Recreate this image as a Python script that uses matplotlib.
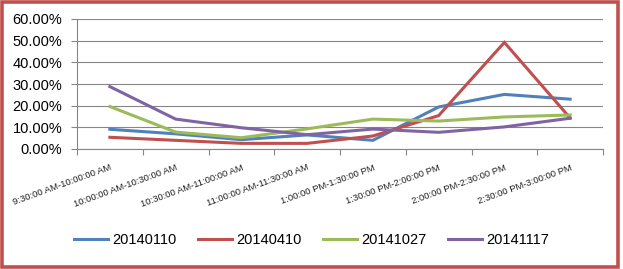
import matplotlib
matplotlib.use("Agg")
import matplotlib.pyplot as plt
from matplotlib.patches import Rectangle
from matplotlib.ticker import FuncFormatter, MultipleLocator

categories = ["9:30:00 AM-10:00:00 AM", "10:00:00 AM-10:30:00 AM", "10:30:00 AM-11:00:00 AM",
              "11:00:00 AM-11:30:00 AM", "1:00:00 PM-1:30:00 PM", "1:30:00 PM-2:00:00 PM",
              "2:00:00 PM-2:30:00 PM", "2:30:00 PM-3:00:00 PM"]
s20140110 = [9.1, 7.0, 4.3, 6.5, 4.0, 19.4, 25.2, 23.0]
s20140410 = [5.4, 4.0, 2.6, 2.6, 6.0, 15.4, 49.2, 14.3]
s20141027 = [19.6, 7.8, 5.2, 9.3, 13.8, 12.9, 14.8, 15.7]
s20141117 = [28.8, 13.8, 9.8, 6.6, 9.2, 7.7, 10.2, 14.2]
series_names = ["20140110", "20140410", "20141027", "20141117"]
series = [s20140110, s20140410, s20141027, s20141117]
colors = ["#4F81BD", "#C0504D", "#9BBB59", "#8064A2"]

W, H = 623, 269
fig = plt.figure(figsize=(W / 100, H / 100), dpi=100)
plt.rcParams['font.family'] = ['Liberation Sans', 'DejaVu Sans']

left, right, top, bottom = 77, 603, 19, 149
ax = fig.add_axes([left / W, 1 - bottom / H, (right - left) / W, (bottom - top) / H])

x = list(range(len(categories)))
for name, vals, c in zip(series_names, series, colors):
    ax.plot(x, vals, color=c, lw=2.2, label=name, solid_joinstyle='miter')

ax.set_xlim(-0.5, len(categories) - 0.5)
ax.set_ylim(0, 60)
ax.yaxis.set_major_locator(MultipleLocator(10))
ax.yaxis.set_major_formatter(FuncFormatter(lambda v, p: f"{v:.2f}%"))
ax.grid(axis='y', color='#868686', lw=0.8)
ax.set_axisbelow(True)
for s in ['top', 'right']:
    ax.spines[s].set_visible(False)
for s in ['left', 'bottom']:
    ax.spines[s].set_color('#868686')
    ax.spines[s].set_linewidth(0.8)

ax.set_xticks([i - 0.5 for i in range(len(categories) + 1)])
ax.set_xticklabels([])
ax.set_xticks(x, minor=True)
ax.set_xticklabels(categories, minor=True, rotation=20, ha='right', va='top',
                   rotation_mode='anchor', fontsize=6.8, color='#222222')
ax.tick_params(axis='x', which='major', length=4, color='#868686', width=0.8)
ax.tick_params(axis='x', which='minor', length=0, pad=10)
ax.tick_params(axis='y', length=4.5, color='#868686', width=0.8, pad=6, labelsize=10.5)

fig.legend(loc='center', bbox_to_anchor=(0.5, 29 / H), ncol=4, frameon=False,
           fontsize=10.5, handlelength=2.3, handletextpad=0.3, columnspacing=1.5)

fig.patches.append(Rectangle((1.5 / W, 1.8 / H), 616 / W, 265.5 / H, transform=fig.transFigure,
                             fill=False, edgecolor='#C0504D', lw=2.6))

fig.savefig("out.png", dpi=100, facecolor='white')
